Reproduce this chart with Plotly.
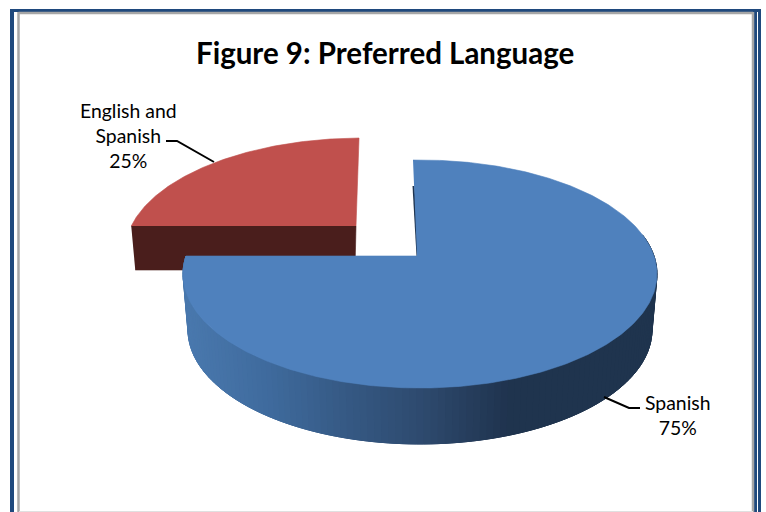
import numpy as np
import plotly.graph_objects as go

categories = ["Spanish", "English and<br>Spanish"]
shares = [75, 25]
colors = ["#4F81BD", "#C0504D"]
W, H = 766, 512

# pixel-like data space
blue = dict(ax=417, ay=256, cx=420, cy=274, rx=237, ry=114, depth=56, shrink=5, lean=-1.15)
red = dict(ax=356, ay=226, cx=362, cy=252, rx=237, ry=114, lean=0.95)


def ray_arc(g, start_deg, end_deg, n=120):
    th = np.radians(np.linspace(start_deg, end_deg, n))
    dx, dy = g["rx"] * np.sin(th), -g["ry"] * np.cos(th)
    px, py = (g["ax"] - g["cx"]) / g["rx"], (g["ay"] - g["cy"]) / g["ry"]
    qx, qy = dx / g["rx"], dy / g["ry"]
    a = qx**2 + qy**2
    b = 2 * (px * qx + py * qy)
    c = px**2 + py**2 - 1
    t = (-b + np.sqrt(b**2 - 4 * a * c)) / (2 * a)
    return g["ax"] + t * dx, g["ay"] + t * dy


def poly(x, y, color, lw=0.6):
    return go.Scatter(x=list(x), y=list(y), mode="lines", fill="toself", fillcolor=color,
                      line=dict(color=color, width=lw), hoverinfo="skip", showlegend=False)


def mix(x):
    stops_x = [183, 260, 350, 420, 505, 657]
    stops = np.array([[74, 121, 174], [64, 108, 159], [53, 88, 130], [46, 74, 110], [32, 52, 79], [31, 52, 78]])
    rgb = [np.interp(x, stops_x, stops[:, i]) for i in range(3)]
    return "rgb(%d,%d,%d)" % tuple(rgb)


blue_sweep = 360 * shares[0] / sum(shares)
red_sweep = 360 * shares[1] / sum(shares)

fig = go.Figure()

# red slice
rx_arc, ry_arc = ray_arc(red, blue_sweep, blue_sweep + red_sweep + red["lean"])
wall_d = 44
fig.add_trace(poly([rx_arc[0], red["ax"], red["ax"] - 1, rx_arc[0] + 4],
                   [red["ay"], red["ay"], red["ay"] + wall_d, red["ay"] + wall_d], "#4A1E1C"))
fig.add_trace(poly(list(rx_arc) + [red["ax"]], list(ry_arc) + [red["ay"]], colors[1]))

# blue slice: outer wall, drawn as overlapping opaque bands for a smooth left-right shade
bx_arc, by_arc = ray_arc(blue, blue["lean"], blue_sweep, 360)
step = 2
idx = list(range(0, len(bx_arc) - 1, step))
for i in idx:
    j = min(i + step + 2, len(bx_arc) - 1)
    if by_arc[i] < blue["ay"] - 18 and by_arc[j] < blue["ay"] - 18:
        continue
    ratio = (blue["rx"] - blue["shrink"]) / blue["rx"]
    bx0 = blue["cx"] + (bx_arc[i] - blue["cx"]) * ratio
    bx1 = blue["cx"] + (bx_arc[j] - blue["cx"]) * ratio
    fig.add_trace(poly([bx_arc[i], bx_arc[j], bx1, bx0],
                       [by_arc[i], by_arc[j], by_arc[j] + blue["depth"], by_arc[i] + blue["depth"]],
                       mix((bx_arc[i] + bx_arc[j]) / 2), lw=1))

# thin inner cut edge
fig.add_trace(go.Scatter(x=[blue["ax"] - 3.5, blue["ax"] + 0.5], y=[186, blue["ay"]], mode="lines",
                         line=dict(color="#1F344F", width=2), hoverinfo="skip", showlegend=False))
# blue top
fig.add_trace(poly(list(bx_arc) + [blue["ax"]], list(by_arc) + [blue["ay"]], colors[0]))

# leader lines
for lx, ly in [([214, 177, 166], [162, 141, 141]), ([604, 629, 640], [397, 408, 408])]:
    fig.add_trace(go.Scatter(x=lx, y=ly, mode="lines", line=dict(color="black", width=2),
                             hoverinfo="skip", showlegend=False))

font = "Lato, Carlito, sans-serif"
fig.add_annotation(x=128, y=135.5, text=f"{categories[1]}<br>{shares[1]}%", showarrow=False,
                   font=dict(family=font, size=19.4, color="black"), align="center")
fig.add_annotation(x=677.5, y=414.5, text=f"{categories[0]}<br>{shares[0]}%", showarrow=False,
                   font=dict(family=font, size=19.4, color="black"), align="center")
fig.add_annotation(x=385, y=52.5, text="<b>Figure 9: Preferred Language</b>", showarrow=False,
                   font=dict(family=font, size=29.5, color="black"))

# frame
shapes = []
def line(x0, y0, x1, y1, color, w):
    shapes.append(dict(type="line", x0=x0, y0=y0, x1=x1, y1=y1, line=dict(color=color, width=w), layer="below"))
line(12, 10.5, 761, 10.5, "#1F497D", 3)
line(12, 9, 12, 512, "#1F497D", 4)
line(755.5, 10, 755.5, 512, "#1F497D", 3)
line(759.5, 9, 759.5, 512, "#1F497D", 3)
line(18.5, 13, 753, 13, "#A6A6A6", 2.5)
line(18.5, 12, 18.5, 512, "#A6A6A6", 2.5)
line(753, 12, 753, 512, "#A6A6A6", 2.5)
line(19, 511.5, 753, 511.5, "#E0E0E0", 1)

fig.update_layout(width=W, height=H, margin=dict(l=0, r=0, t=0, b=0), paper_bgcolor="white",
                  plot_bgcolor="white", shapes=shapes, showlegend=False, hovermode=False,
                  xaxis=dict(range=[0, W], visible=False, fixedrange=True),
                  yaxis=dict(range=[H, 0], visible=False, fixedrange=True))
fig.write_html("out.html", config={"displayModeBar": False},
               post_script="document.body.style.margin='0';document.body.style.overflow='hidden';")
